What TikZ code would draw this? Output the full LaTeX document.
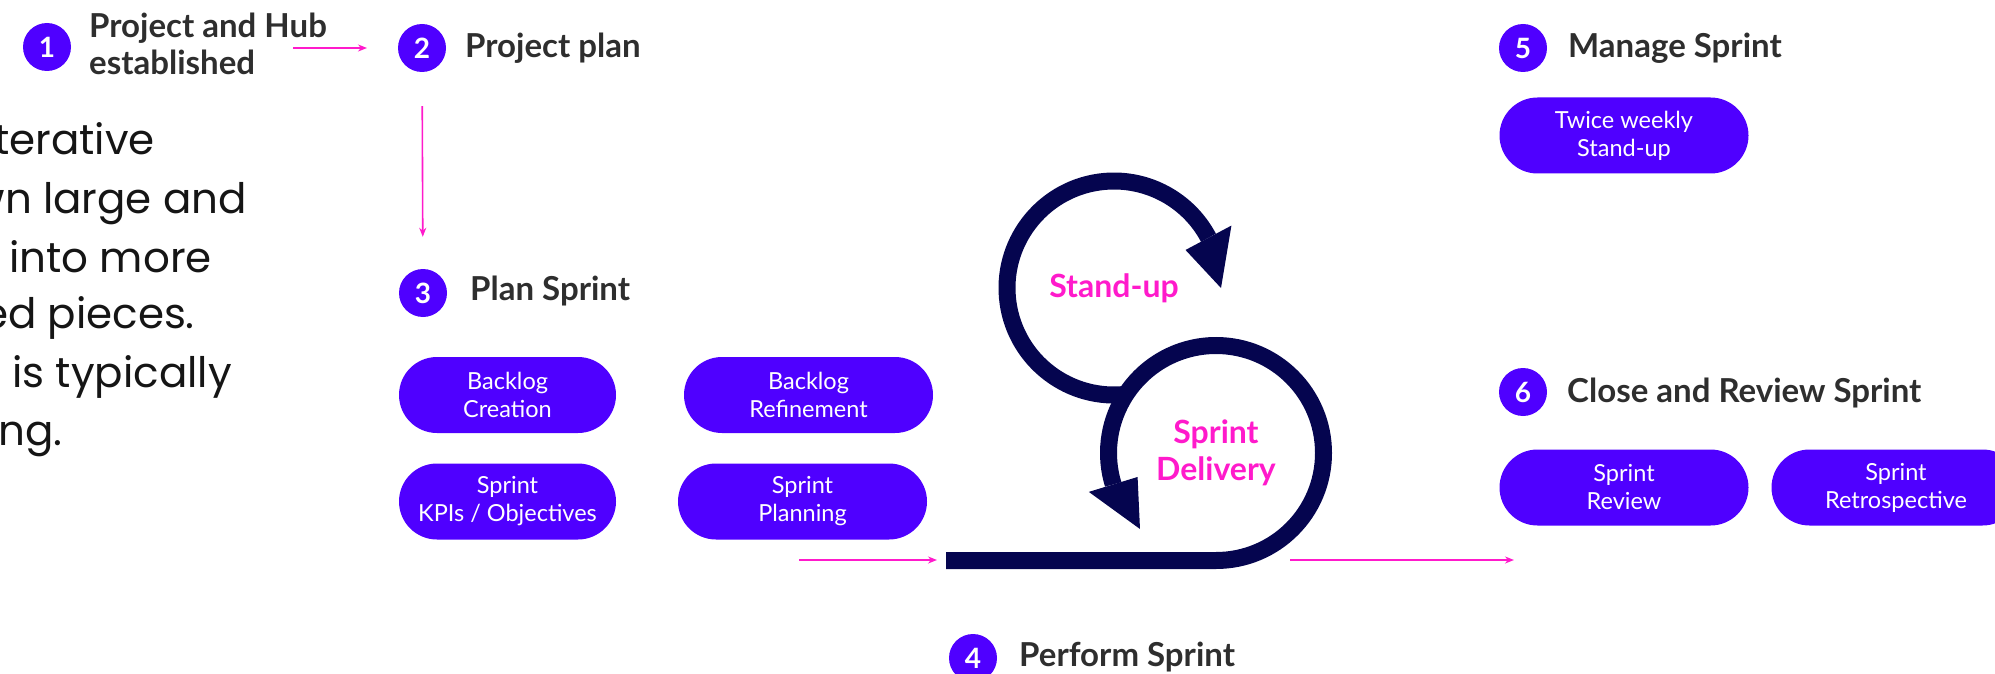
\documentclass[tikz,border=0pt]{standalone}
\usepackage{fontspec}
\setmainfont{Lato}
\newfontfamily\introfont{Poppins}
\newfontfamily\pillfont{Lato}
\usetikzlibrary{arrows.meta,shapes.misc}

\definecolor{stepviolet}{HTML}{4F00FF}
\definecolor{loopnavy}{HTML}{05054F}
\definecolor{flowpink}{HTML}{FF1ACB}
\definecolor{headgray}{HTML}{2E2E2E}
\definecolor{introtext}{HTML}{151515}

\begin{document}
\begin{tikzpicture}[x=1pt, y=-1pt,
  stepnum/.style={circle, fill=stepviolet, text=white, inner sep=0pt,
    minimum size=48pt, font=\bfseries\fontsize{28}{28}\selectfont},
  steptitle/.style={anchor=base west, inner sep=0pt, align=left, text=headgray,
    font=\bfseries\fontsize{33}{37}\selectfont},
  pill/.style={rounded rectangle, fill=stepviolet, text=white, inner sep=0pt,
    minimum width=249pt, minimum height=76pt, align=center,
    font=\pillfont\fontsize{23.5}{28}\selectfont},
  shortpill/.style={pill, minimum width=217pt},
  intro/.style={anchor=base east, inner sep=0pt, text=introtext,
    font=\introfont\fontsize{42}{42}\selectfont},
  looplabel/.style={inner sep=0pt, align=center, text=flowpink,
    font=\bfseries\fontsize{32}{37}\selectfont},
  flow/.style={draw=flowpink, line width=1.6pt, -{Stealth[length=9pt, width=7pt]}},
  loopline/.style={draw=loopnavy, line width=17pt}
]
\useasboundingbox (0,0) rectangle (1995,674);
\clip (0,0) rectangle (1995,674);

% introductory paragraph, running off the left edge
\node[intro] (i1) at (155,155) {terative};
\node[intro] (i2) at (247,213) {wn large and};
\node[intro] (i3) at (212,272) {into more};
\node[intro] (i4) at (195,328) {ed pieces.};
\node[intro] (i5) at (232,387) {is typically};
\node[intro] (i6) at (63,445) {ng.};

% numbered steps
\node[stepnum] (n1) at (47,47) {1};
\node[steptitle] (t1) at (89,75) {Project and Hub\\established};
\node[stepnum] (n2) at (422,48) {2};
\node[steptitle] (t2) at (465,58) {Project plan};
\node[stepnum] (n3) at (423,293) {3};
\node[steptitle] (t3) at (470,300) {Plan Sprint};
\node[stepnum] (n4) at (973,658) {4};
\node[steptitle] (t4) at (1019,666) {Perform Sprint};
\node[stepnum] (n5) at (1523,48) {5};
\node[steptitle] (t5) at (1568,58) {Manage Sprint};
\node[stepnum] (n6) at (1523,392) {6};
\node[steptitle] (t6) at (1567,402) {Close and Review Sprint};

% activities
\node[shortpill] (bc) at (507.5,395) {Backlog\\Creation};
\node[pill] (br) at (808.5,395) {Backlog\\Refinement};
\node[shortpill] (sk) at (507.5,501.5) {Sprint\\KPIs / Objectives};
\node[pill] (sp) at (802.5,501.5) {Sprint\\Planning};
\node[pill] (tw) at (1624,135.5) {Twice weekly\\Stand-up};
\node[pill] (sr) at (1624,487.5) {Sprint\\Review};
\node[pill] (srt) at (1896,487.5) {Sprint\\Retrospective};

% sprint loop: a bar feeding the delivery circle, topped by the stand-up circle
\coordinate (barL) at (946,560.5);
\coordinate (D) at (1216,453);
\coordinate (S) at (1114,288);
\draw[loopline] ([shift={(85:107)}]S) arc[start angle=85, end angle=332, radius=107];
\fill[loopnavy] ([shift={(332:133)}]S) -- ([shift={(332:81)}]S) -- ([shift={(0:107)}]S) -- cycle;
\draw[loopline] (barL) -- ([shift={(90:107.5)}]D) arc[start angle=90, end angle=-197, radius=107.5];
\fill[loopnavy] ([shift={(163:133)}]D) -- ([shift={(163:82)}]D) -- ([shift={(135:107.5)}]D) -- cycle;
\node[looplabel] (lsu) at (S) {Stand-up};
\node[looplabel] (lsd) at (D) {Sprint\\Delivery};

% flow arrows
\coordinate (a12s) at (293,48);
\coordinate (a12e) at (367,48);
\draw[flow] (a12s) -- (a12e);
\draw[flow, shorten <=34pt, shorten >=32pt] (n2) -- (n3);
\coordinate (ainS) at (799,560);
\coordinate (ainE) at (937,560);
\draw[flow] (ainS) -- (ainE);
\coordinate (aoutS) at (1290,560);
\coordinate (aoutE) at (1514,560);
\draw[flow] (aoutS) -- (aoutE);
\end{tikzpicture}
\end{document}
